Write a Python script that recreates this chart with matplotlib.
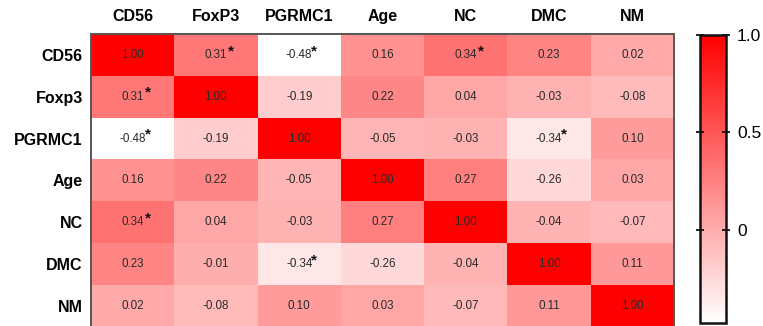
import matplotlib

matplotlib.use("Agg")
import matplotlib.pyplot as plt
import numpy as np
from matplotlib.colors import LinearSegmentedColormap

plt.rcParams["font.family"] = ["Liberation Sans", "DejaVu Sans"]

row_labels = ["CD56", "Foxp3", "PGRMC1", "Age", "NC", "DMC", "NM"]
col_labels = ["CD56", "FoxP3", "PGRMC1", "Age", "NC", "DMC", "NM"]

corr = [
    [1.00, 0.31, -0.48, 0.16, 0.34, 0.23, 0.02],
    [0.31, 1.00, -0.19, 0.22, 0.04, -0.03, -0.08],
    [-0.48, -0.19, 1.00, -0.05, -0.03, -0.34, 0.10],
    [0.16, 0.22, -0.05, 1.00, 0.27, -0.26, 0.03],
    [0.34, 0.04, -0.03, 0.27, 1.00, -0.04, -0.07],
    [0.23, -0.01, -0.34, -0.26, -0.04, 1.00, 0.11],
    [0.02, -0.08, 0.10, 0.03, -0.07, 0.11, 1.00],
]

# significant pairs (row, col)
significant = [(0, 1), (0, 2), (1, 0), (2, 0), (2, 5), (4, 0), (0, 4), (5, 2)]

cbar_ticks = [0, 0.5, 1.0]
cbar_ticklabels = ["0", "0.5", "1.0"]

vmin, vmax = -0.48, 1.0
cmap = LinearSegmentedColormap.from_list("white_red", ["#FFFFFF", "#FF0000"])

data = np.array(corr)
n_rows, n_cols = data.shape

fig = plt.figure(figsize=(7.63, 3.26), dpi=100)
ax = fig.add_axes([91 / 763, -0.002, 583 / 763, 1 - 34 / 326 + 0.002])
cax = fig.add_axes([700 / 763, 3 / 326, 26 / 763, 288 / 326])

mesh = ax.pcolormesh(data, cmap=cmap, vmin=vmin, vmax=vmax)
ax.set_xlim(0, n_cols)
ax.set_ylim(n_rows, 0)

for i in range(n_rows):
    for j in range(n_cols):
        ax.text(j + 0.5, i + 0.5, f"{data[i, j]:.2f}", ha="center", va="center",
                fontsize=8.4, color="#2a2a2a")

for i, j in significant:
    ax.annotate("*", xy=(j + 0.5, i + 0.5), xytext=(8.6, 2.8),
                textcoords="offset points", ha="left", va="center",
                fontsize=11, fontweight="bold", color="#111111")

ax.xaxis.tick_top()
ax.set_xticks(np.arange(n_cols) + 0.5)
ax.set_xticklabels(col_labels, fontsize=11.5, fontweight="bold")
ax.set_yticks(np.arange(n_rows) + 0.5)
ax.set_yticklabels(row_labels, fontsize=11.5, fontweight="bold")
ax.tick_params(axis="x", length=0, pad=7)
ax.tick_params(axis="y", length=0, pad=6)
for spine in ax.spines.values():
    spine.set_color("#555555")
    spine.set_linewidth(1.4)

cb = fig.colorbar(mesh, cax=cax)
cb.set_ticks(cbar_ticks)
cb.set_ticklabels(cbar_ticklabels)
cb.outline.set_linewidth(1.8)
cb.outline.set_edgecolor("#111111")
cax.tick_params(axis="y", direction="inout", length=6, width=1.2,
                left=True, right=True, labelsize=12.5, pad=5)

fig.savefig("out.png", dpi=100)
